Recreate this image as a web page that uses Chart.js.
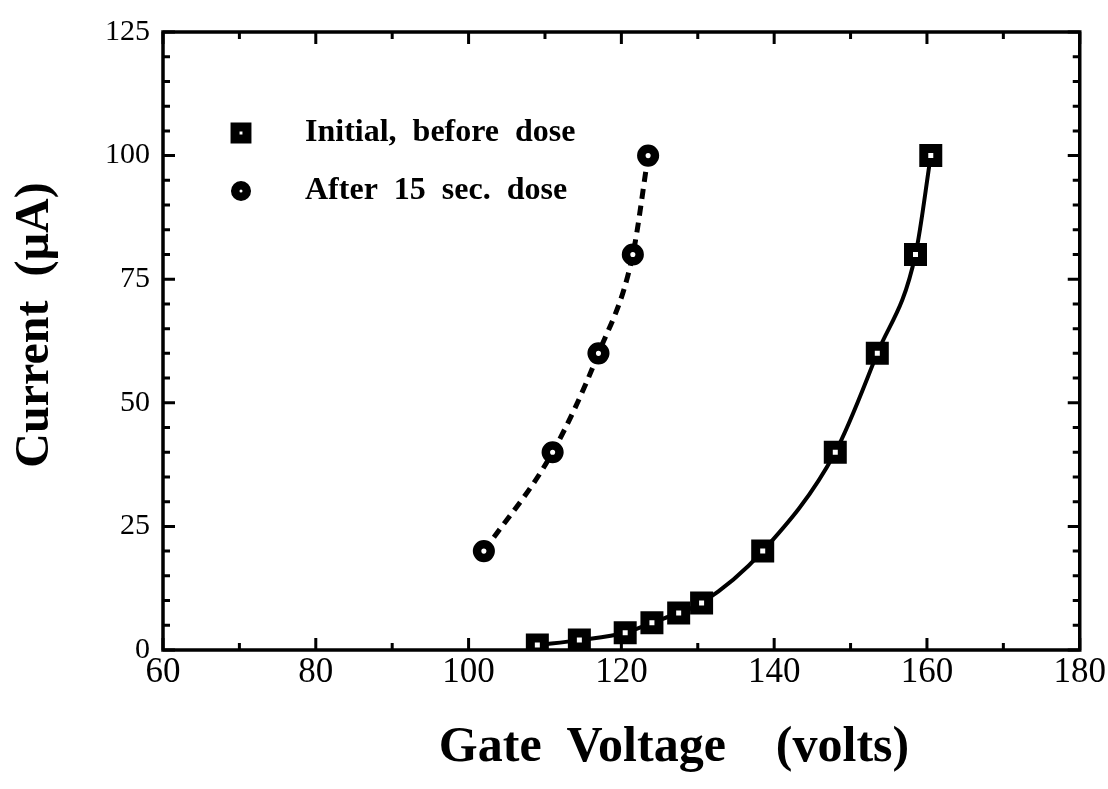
<!DOCTYPE html>
<html>
<head>
<meta charset="utf-8">
<script src="https://cdn.jsdelivr.net/npm/chart.js@4.4.1/dist/chart.umd.min.js"></script>
<style>
  html, body { margin: 0; padding: 0; background: #fff; }
  #wrap { width: 1108px; height: 789px; }
</style>
</head>
<body>
<div id="wrap"><canvas id="chart"></canvas></div>
<script>
// gate voltage (volts) vs current (uA)
const initialVolts = [109, 114.5, 120.5, 124, 127.5, 130.5, 138.5, 148, 153.5, 158.5, 160.5];
const initialCurrent = [1, 2, 3.5, 5.5, 7.5, 9.5, 20, 40, 60, 80, 100];
const dosedVolts = [102, 111, 117, 121.5, 123.5];
const dosedCurrent = [20, 40, 60, 80, 100];
const xTicks = [60, 80, 100, 120, 140, 160, 180];
const yTicks = [0, 25, 50, 75, 100, 125];
const xTitle = 'Gate  Voltage    (volts)';
const yTitle = 'Current  (µA)';

const serif = '"Liberation Serif", "DejaVu Serif", serif';

function toPoints(xs, ys) {
  return xs.map((x, i) => ({ x, y: ys[i] }));
}

// inward ticks on all four sides + frame
const frameTicks = {
  id: 'frameTicks',
  afterDraw(chart) {
    const { ctx, chartArea: a, scales: { x, y } } = chart;
    ctx.save();
    ctx.strokeStyle = '#000';
    ctx.lineWidth = 3.5;
    ctx.strokeRect(a.left, a.top, a.right - a.left, a.bottom - a.top);
    ctx.lineWidth = 3;
    for (let v = 60; v <= 180; v += 10) {
      const px = x.getPixelForValue(v);
      const len = v % 20 === 0 ? 12 : 7;
      ctx.beginPath();
      ctx.moveTo(px, a.bottom); ctx.lineTo(px, a.bottom - len);
      ctx.moveTo(px, a.top); ctx.lineTo(px, a.top + len);
      ctx.stroke();
    }
    for (let v = 0; v <= 125; v += 5) {
      const py = y.getPixelForValue(v);
      const len = v % 25 === 0 ? 12 : 7;
      ctx.beginPath();
      ctx.moveTo(a.left, py); ctx.lineTo(a.left + len, py);
      ctx.moveTo(a.right, py); ctx.lineTo(a.right - len, py);
      ctx.stroke();
    }
    ctx.restore();
  }
};

// axis titles, placed a bit off-centre like the original
const axisTitles = {
  id: 'axisTitles',
  afterDraw(chart) {
    const { ctx } = chart;
    ctx.save();
    ctx.fillStyle = '#000';
    ctx.font = 'bold 50px ' + serif;
    ctx.textAlign = 'center';
    ctx.textBaseline = 'middle';
    ctx.fillText(xTitle, 674, 748);
    ctx.translate(36, 325);
    ctx.rotate(-Math.PI / 2);
    ctx.font = 'bold 48px ' + serif;
    ctx.fillText(yTitle, 0, 0);
    ctx.restore();
  }
};

// legend drawn inside the plot, upper left
const innerLegend = {
  id: 'innerLegend',
  afterDraw(chart) {
    const { ctx } = chart;
    const rows = [
      { ds: chart.data.datasets[0], y: 133 },
      { ds: chart.data.datasets[1], y: 191 }
    ];
    ctx.save();
    rows.forEach(({ ds, y }) => {
      ctx.lineWidth = ds.pointBorderWidth;
      ctx.strokeStyle = '#000';
      ctx.fillStyle = '#fff';
      Chart.helpers.drawPoint(ctx, { pointStyle: ds.pointStyle, radius: ds.pointRadius * 0.85, borderWidth: ds.pointBorderWidth }, 241, y);
      ctx.fillStyle = '#000';
      ctx.font = 'bold 32px ' + serif;
      ctx.textBaseline = 'middle';
      ctx.fillText(ds.label, 305, y);
    });
    ctx.restore();
  }
};

new Chart(document.getElementById('chart'), {
  type: 'scatter',
  data: {
    datasets: [{
      label: 'Initial,  before  dose',
      data: toPoints(initialVolts, initialCurrent),
      showLine: true,
      cubicInterpolationMode: 'monotone',
      borderColor: '#000',
      borderWidth: 4,
      pointStyle: 'rect',
      pointRadius: 9.9,
      pointBorderWidth: 9,
      pointBackgroundColor: '#fff',
      pointBorderColor: '#000'
    }, {
      label: 'After  15  sec.  dose',
      data: toPoints(dosedVolts, dosedCurrent),
      showLine: true,
      cubicInterpolationMode: 'monotone',
      borderColor: '#000',
      borderWidth: 5,
      borderDash: [10, 7],
      pointStyle: 'circle',
      pointRadius: 6.8,
      pointBorderWidth: 8.5,
      pointBackgroundColor: '#fff',
      pointBorderColor: '#000'
    }]
  },
  options: {
    responsive: true,
    maintainAspectRatio: false,
    animation: false,
    layout: { padding: { top: 32, right: 24, left: 0, bottom: 0 } },
    plugins: {
      legend: { display: false },
      tooltip: { enabled: false }
    },
    scales: {
      x: {
        type: 'linear',
        min: 60, max: 180,
        afterBuildTicks: s => { s.ticks = xTicks.map(v => ({ value: v })); },
        afterFit: s => { s.height = 139; },
        grid: { display: false, drawTicks: false },
        border: { display: false },
        ticks: { color: '#000', padding: 2, font: { family: serif, size: 35 } }
      },
      y: {
        type: 'linear',
        min: 0, max: 125,
        afterBuildTicks: s => { s.ticks = yTicks.map(v => ({ value: v })); },
        afterFit: s => { s.width = 163; },
        grid: { display: false, drawTicks: false },
        border: { display: false },
        ticks: { color: '#000', padding: 13, font: { family: serif, size: 30 } }
      }
    }
  },
  plugins: [frameTicks, axisTitles, innerLegend]
});
</script>
</body>
</html>
